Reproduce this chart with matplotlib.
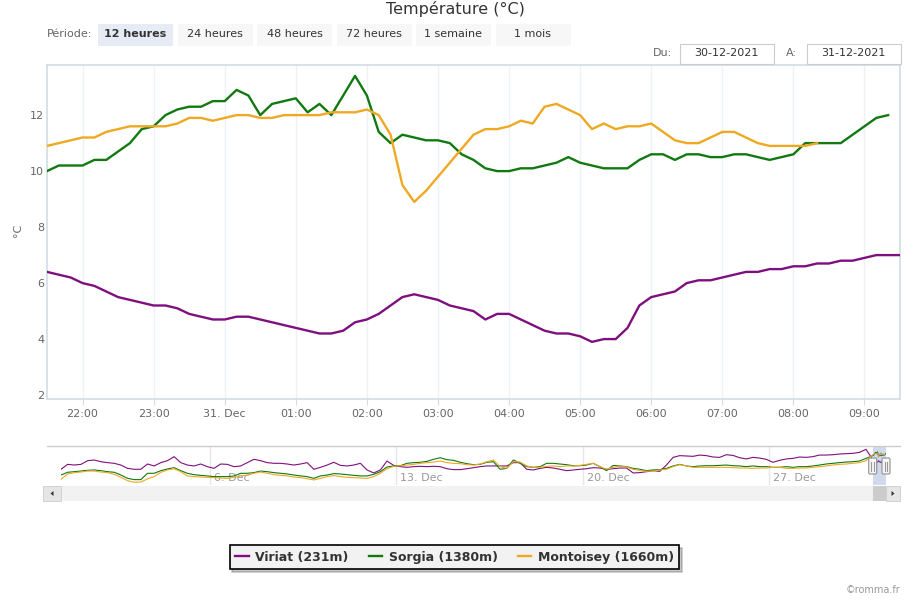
import matplotlib
matplotlib.use('Agg')
import matplotlib.pyplot as plt
import matplotlib.dates as mdates
import matplotlib.patches as mpatches
import matplotlib.transforms as mtrans
from matplotlib.ticker import FuncFormatter
import pandas as pd

plt.rcParams['font.family'] = ['DejaVu Sans']

W, H = 910, 600

title = 'Température (°C)'
period_label = 'Période:'
periods = ['12 heures', '24 heures', '48 heures', '72 heures', '1 semaine', '1 mois']
selected_period = '12 heures'
date_from = '30-12-2021'
date_to = '31-12-2021'
series_names = ['Viriat (231m)', 'Sorgia (1380m)', 'Montoisey (1660m)']
colors = ['#7f0f7f', '#10790f', '#efa822']
y_label = '°C'
copyright_text = '©romma.fr'

# main chart: 10-minute data
main_start = '2021-12-30 21:30'
viriat = [6.4, 6.3, 6.2, 6.0, 5.9, 5.7, 5.5, 5.4, 5.3, 5.2,
          5.2, 5.1, 4.9, 4.8, 4.7, 4.7, 4.8, 4.8, 4.7, 4.6,
          4.5, 4.4, 4.3, 4.2, 4.2, 4.3, 4.6, 4.7, 4.9, 5.2,
          5.5, 5.6, 5.5, 5.4, 5.2, 5.1, 5.0, 4.7, 4.9, 4.9,
          4.7, 4.5, 4.3, 4.2, 4.2, 4.1, 3.9, 4.0, 4.0, 4.4,
          5.2, 5.5, 5.6, 5.7, 6.0, 6.1, 6.1, 6.2, 6.3, 6.4,
          6.4, 6.5, 6.5, 6.6, 6.6, 6.7, 6.7, 6.8, 6.8, 6.9,
          7.0, 7.0, 7.0]
sorgia = [10.0, 10.2, 10.2, 10.2, 10.4, 10.4, 10.7, 11.0, 11.5, 11.6,
          12.0, 12.2, 12.3, 12.3, 12.5, 12.5, 12.9, 12.7, 12.0, 12.4,
          12.5, 12.6, 12.1, 12.4, 12.0, 12.7, 13.4, 12.7, 11.4, 11.0,
          11.3, 11.2, 11.1, 11.1, 11.0, 10.6, 10.4, 10.1, 10.0, 10.0,
          10.1, 10.1, 10.2, 10.3, 10.5, 10.3, 10.2, 10.1, 10.1, 10.1,
          10.4, 10.6, 10.6, 10.4, 10.6, 10.6, 10.5, 10.5, 10.6, 10.6,
          10.5, 10.4, 10.5, 10.6, 11.0, 11.0, 11.0, 11.0, 11.3, 11.6,
          11.9, 12.0]
montoisey = [10.9, 11.0, 11.1, 11.2, 11.2, 11.4, 11.5, 11.6, 11.6, 11.6,
             11.6, 11.7, 11.9, 11.9, 11.8, 11.9, 12.0, 12.0, 11.9, 11.9,
             12.0, 12.0, 12.0, 12.0, 12.1, 12.1, 12.1, 12.2, 12.0, 11.3,
             9.5, 8.9, 9.3, 9.8, 10.3, 10.8, 11.3, 11.5, 11.5, 11.6,
             11.8, 11.7, 12.3, 12.4, 12.2, 12.0, 11.5, 11.7, 11.5, 11.6,
             11.6, 11.7, 11.4, 11.1, 11.0, 11.0, 11.2, 11.4, 11.4, 11.2,
             11.0, 10.9, 10.9, 10.9, 10.9, 11.0]

# navigator: 6-hourly overview of the month before the main window
nav_start = '2021-11-30 09:30'
nav_viriat = [-1.8, 2.5, 1.9, 2.5, 5.7, 6.3, 4.8, 4.0, 3.4, 1.9,
              -1.0, -1.8, -1.8, 2.8, 1.1, 4.0, 5.7, 9.2, 4.0, 1.9,
              1.1, 2.8, 0.5, -1.0, 2.8, 2.5, 0.5, 1.1, 4.0, 6.9,
              5.7, 4.0, 3.4, 3.4, 2.8, 1.9, 2.8, 4.0, -1.8, -0.1,
              1.9, 4.3, 1.6, 1.1, 1.9, 3.4, -2.4, -5.0, -2.4, 5.4,
              1.6, 0.5, -0.1, 0.5, 0.8, 0.5, 0.8, 0.5, -1.3, -2.1,
              -2.1, -1.3, -0.4, 0.5, 1.1, 1.1, 1.1, 1.1, 4.0, 4.0,
              -1.8, -2.4, -1.0, -0.1, -0.7, -1.8, -3.0, -2.4, -1.8, -1.3,
              -0.4, -0.7, -1.8, -1.3, -0.7, -0.7, -5.0, -4.7, -3.9, -3.0,
              -3.6, 1.9, 8.6, 10.1, 9.8, 9.5, 10.6, 10.1, 8.9, 8.6,
              10.9, 10.3, 8.3, 7.2, 8.6, 8.0, 6.9, 4.3, 6.0, 7.2,
              7.7, 8.9, 8.6, 9.2, 10.6, 10.6, 10.9, 11.5, 11.8, 12.1, 12.9, 15.6]
nav_sorgia = [-6.8, -4.4, -3.9, -3.3, -2.7, -2.4, -3.0, -3.9, -4.4, -6.8,
              -9.7, -10.8, -10.8, -5.3, -5.3, -3.0, -1.5, -0.4, -3.0, -5.3,
              -6.5, -7.1, -7.6, -8.2, -8.2, -8.2, -7.6, -5.3, -5.3, -4.7,
              -3.3, -3.9, -4.7, -5.3, -5.9, -6.8, -7.6, -8.2, -9.7, -7.6,
              -6.8, -5.6, -5.9, -6.5, -7.1, -7.6, -7.6, -6.2, -3.9, 0.2,
              1.1, 1.3, 3.4, 4.0, 4.3, 5.1, 6.9, 8.3, 6.6, 6.0,
              4.3, 3.1, 2.2, 2.5, 4.3, 4.8, -1.8, -1.0, 6.3, 3.4,
              0.5, -0.1, 0.5, 3.4, 3.4, 2.8, 2.2, 1.3, 1.3, 1.9,
              3.4, 0.5, -3.0, 1.6, 1.1, 0.5, -1.0, -1.8, -3.0, -2.4,
              -2.1, -1.0, 1.1, 2.5, 1.1, 0.5, 1.1, 1.3, 1.3, 1.6,
              1.9, 1.3, 1.1, 0.5, 1.1, 0.5, 0.5, -0.1, -0.1, 0.5,
              -0.1, 0.5, 0.5, 1.1, 1.9, 2.8, 3.4, 4.0, 4.5, 4.8, 5.4, 7.7]
nav_montoisey = [-10.5, -5.9, -4.7, -4.2, -3.3, -3.3, -4.2, -4.7, -6.2, -8.8,
                 -11.7, -13.1, -12.9, -10.2, -8.2, -4.4, -2.4, -1.3, -3.9, -7.6,
                 -8.2, -8.5, -8.8, -9.1, -9.4, -9.7, -8.8, -7.6, -6.8, -5.3,
                 -4.2, -5.3, -6.5, -7.1, -7.6, -8.5, -9.1, -10.0, -11.1, -9.7,
                 -8.2, -7.3, -8.2, -8.8, -9.1, -9.4, -9.7, -8.2, -5.3, -1.3,
                 0.8, 1.3, 1.9, 2.5, 3.4, 4.0, 4.5, 5.4, 4.0, 3.4,
                 3.1, 2.2, 1.9, 2.8, 4.8, 6.3, 0.5, -1.0, 4.8, 4.5,
                 1.1, -0.1, -0.1, 0.8, 1.1, 0.5, 1.1, 1.1, 1.6, 2.5,
                 3.4, 0.5, -1.8, -0.1, 1.1, 0.2, -1.8, -2.7, -3.6, -3.3,
                 -2.4, -1.8, 0.5, 2.2, 1.1, -0.1, -0.1, -0.1, -0.1, -0.1,
                 -0.1, -0.4, -0.7, -0.7, -1.0, -0.7, -0.7, -0.1, -0.1, -1.0,
                 -1.0, -0.7, -0.7, -0.1, 0.5, 1.1, 1.9, 2.5, 2.8, 3.4, 4.0, 5.7]
nav_week_ticks = ['2021-12-06', '2021-12-13', '2021-12-20', '2021-12-27']

y_ticks = [2, 4, 6, 8, 10, 12]

# ------------------------------------------------------------------
t_main = pd.date_range(main_start, periods=len(viriat), freq='10min')
t_nav = pd.date_range(nav_start, periods=len(nav_viriat), freq='6h')
main_series = [viriat, sorgia, montoisey]
nav_series = [nav_viriat, nav_sorgia, nav_montoisey]


def rect(l, t, r, b):
    return [l / W, 1 - b / H, (r - l) / W, (b - t) / H]


fig = plt.figure(figsize=(W / 100, H / 100), dpi=100)
fig.patch.set_facecolor('white')

# ---------------- main chart ----------------
ax = fig.add_axes(rect(47, 65, 900, 399))
lines = []
for vals, col, name in zip(main_series, colors, series_names):
    ln, = ax.plot(t_main[:len(vals)], vals, color=col, lw=1.7, label=name,
                  solid_joinstyle='round', zorder=3)
    lines.append(ln)
ax.set_xlim(t_main[0], t_main[-1])
ax.set_ylim(1.86, 13.79)
ax.set_yticks(y_ticks)
ax.xaxis.set_major_locator(mdates.HourLocator())


def hfmt(x, pos):
    d = mdates.num2date(x)
    if d.hour == 0 and d.minute == 0:
        return f'{d.day}. Dec'
    return d.strftime('%H:%M')


ax.xaxis.set_major_formatter(FuncFormatter(hfmt))
ax.grid(axis='x', color='#eef2f5', lw=1)
ax.set_axisbelow(True)
for s in ax.spines.values():
    s.set_color('#d0dde6')
    s.set_linewidth(1.2)
ax.tick_params(axis='x', length=4, color='#d0dde6', labelcolor='#666666',
               labelsize=8, pad=3)
ax.tick_params(axis='y', length=0, labelcolor='#666666', labelsize=8, pad=2)
fig.text(18 / W, 1 - 230 / H, y_label, rotation=90, ha='center', va='center',
         color='#666666', fontsize=8)

# ---------------- navigator ----------------
nav = fig.add_axes(rect(61, 446, 886, 485))
for vals, main_vals, col in zip(nav_series, main_series, colors):
    tt = list(t_nav) + list(t_main[:len(main_vals)])
    nav.plot(tt, list(vals) + list(main_vals), color=col, lw=0.8, zorder=3)
nav.set_xlim(t_nav[0], t_main[-1])
nav.set_ylim(-15.5, 18.5)
nav.set_xticks([])
nav.set_yticks([])
for s in nav.spines.values():
    s.set_visible(False)
lab_tr = mtrans.offset_copy(nav.get_xaxis_transform(), fig=fig, x=4, y=0, units='dots')
for wk in nav_week_ticks:
    d = pd.Timestamp(wk)
    nav.axvline(d, color='#e6e6e6', lw=1, zorder=1)
    nav.text(d, 0.18, f'{d.day}. Dec', transform=lab_tr, ha='left', va='center',
             color='#999999', fontsize=8, zorder=2)
nav.axvspan(t_main[0], t_main[-1], color='#6685c2', alpha=0.3, lw=0, zorder=4)

# ---------------- overlay for controls ----------------
ov = fig.add_axes([0, 0, 1, 1])
ov.set_xlim(0, W)
ov.set_ylim(H, 0)
ov.axis('off')
ov.patch.set_alpha(0)
ov.set_zorder(5)

fig.text(455 / W, 1 - 9 / H, title, ha='center', va='center', fontsize=11.5,
         color='#333333')
ov.text(47, 34, period_label, ha='left', va='center', fontsize=8, color='#666666')
bx = 98
for p in periods:
    sel = p == selected_period
    ov.add_patch(mpatches.Rectangle((bx, 24), 75, 22, facecolor='#e6ebf5' if sel else '#f7f7f7',
                                    edgecolor='none'))
    ov.text(bx + 37.5, 34, p, ha='center', va='center', fontsize=8,
            color='#333333', fontweight='bold' if sel else 'normal')
    bx += 79.5

ov.text(672, 53, 'Du:', ha='right', va='center', fontsize=8, color='#666666')
ov.add_patch(mpatches.Rectangle((679.5, 43.5), 94, 20, facecolor='white', edgecolor='#cccccc', lw=0.8))
ov.text(726.5, 53, date_from, ha='center', va='center', fontsize=8, color='#333333')
ov.text(797, 53, 'A:', ha='right', va='center', fontsize=8, color='#666666')
ov.add_patch(mpatches.Rectangle((806.5, 43.5), 94, 20, facecolor='white', edgecolor='#cccccc', lw=0.8))
ov.text(853.5, 53, date_to, ha='center', va='center', fontsize=8, color='#333333')

# navigator outline + handles
ov.plot([47, 900], [446, 446], color='#cccccc', lw=1)
x0d = nav.transData.transform((mdates.date2num(t_main[0]), 0))[0]
x1d = nav.transData.transform((mdates.date2num(t_main[-1]), 0))[0]
for xh in (x0d, x1d):
    ov.add_patch(mpatches.FancyBboxPatch((xh - 4, 458), 8, 16,
                                         boxstyle='round,pad=0,rounding_size=1.5',
                                         facecolor='#f7f7f7', edgecolor='#999999', lw=0.9,
                                         zorder=6))
    ov.plot([xh - 1.2, xh - 1.2], [461.5, 470.5], color='#999999', lw=0.8, zorder=7)
    ov.plot([xh + 1.2, xh + 1.2], [461.5, 470.5], color='#999999', lw=0.8, zorder=7)

# scrollbar
ov.add_patch(mpatches.Rectangle((43, 486), 857, 15, facecolor='#f2f2f2', edgecolor='none'))
ov.add_patch(mpatches.Rectangle((43, 486), 18, 15, facecolor='#e6e6e6', edgecolor='#cccccc', lw=0.6))
ov.add_patch(mpatches.Rectangle((x0d, 486), x1d - x0d, 15, facecolor='#cccccc', edgecolor='none'))
ov.add_patch(mpatches.Rectangle((886, 486), 14, 15, facecolor='#e6e6e6', edgecolor='#cccccc', lw=0.6))
ov.add_patch(mpatches.Polygon([[50.5, 493.5], [53.5, 491], [53.5, 496]], closed=True,
                              facecolor='#333333', edgecolor='none'))
ov.add_patch(mpatches.Polygon([[894.5, 493.5], [891.5, 491], [891.5, 496]], closed=True,
                              facecolor='#333333', edgecolor='none'))

# legend
leg = fig.legend(handles=lines, labels=series_names, loc='center',
                 bbox_to_anchor=(454.5 / W, 1 - 557 / H), ncol=3, frameon=True,
                 fancybox=False, shadow={'alpha': 0.3}, edgecolor='black',
                 facecolor='#f2f2f2', framealpha=1,
                 prop={'weight': 'bold', 'size': 9}, labelcolor='#333333',
                 handlelength=1.1, handletextpad=0.5, columnspacing=1.6,
                 borderpad=0.45)
leg.get_frame().set_linewidth(1.2)

fig.text(900 / W, 1 - 590 / H, copyright_text, ha='right', va='center',
         fontsize=7, color='#999999')

fig.savefig('out.png', dpi=100)
